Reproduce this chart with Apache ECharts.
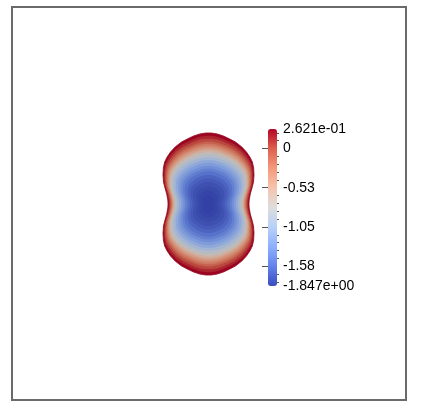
<!DOCTYPE html>
<html>
<head>
<meta charset="utf-8">
<script src="https://cdn.jsdelivr.net/npm/echarts@6/dist/echarts.min.js"></script>
<style>
html, body { margin: 0; padding: 0; background: #fff; }
#chart { width: 423px; height: 407px; }
</style>
</head>
<body>
<div id="chart"></div>
<script>
// domain outline (mesh units): half width at each height, top to bottom
const profileY = [1.0, 0.986, 0.958, 0.915, 0.873, 0.803, 0.732, 0.662, 0.592, 0.507, 0.408, 0.31, 0.225, 0.141, 0.056, 0,
  -0.056, -0.141, -0.225, -0.31, -0.408, -0.507, -0.592, -0.662, -0.732, -0.803, -0.873, -0.915, -0.958, -0.986, -1.0]
const profileHalfWidth = [0.04, 0.125, 0.21, 0.3, 0.38, 0.47, 0.535, 0.583, 0.618, 0.636, 0.641, 0.634, 0.613, 0.589, 0.573, 0.57,
  0.573, 0.589, 0.613, 0.634, 0.641, 0.636, 0.618, 0.583, 0.535, 0.47, 0.38, 0.3, 0.21, 0.125, 0.04]

// contour bands from the boundary inwards: horizontal / vertical size and field value
const bandScaleX = [1.0, 0.98, 0.96, 0.94, 0.92, 0.9, 0.88, 0.86, 0.84, 0.81, 0.77,
  0.72, 0.67, 0.62, 0.57, 0.52, 0.46, 0.4, 0.34, 0.27, 0.2, 0.12]
const bandScaleY = [1.0, 0.96, 0.92, 0.88, 0.85, 0.82, 0.79, 0.76, 0.73, 0.7, 0.66,
  0.62, 0.58, 0.54, 0.5, 0.46, 0.41, 0.36, 0.31, 0.25, 0.19, 0.12]
const bandValue = [0.262, 0.15, 0.04, -0.08, -0.2, -0.33, -0.46, -0.6, -0.74, -0.88, -1.02,
  -1.15, -1.27, -1.38, -1.48, -1.57, -1.65, -1.71, -1.76, -1.8, -1.83, -1.845]

// colour bar
const rangeMin = -1.847
const rangeMax = 0.2621
const labelValues = [0.2621, 0, -0.527, -1.054, -1.581, -1.847]
const labelTexts = ['2.621e-01', '0', '-0.53', '-1.05', '-1.58', '-1.847e+00']
const majorTicks = [0, -0.527, -1.054, -1.581]
const minorTicks = [0.2108, 0.1054, -0.1054, -0.2108, -0.3162, -0.4216, -0.6324, -0.7378, -0.8432, -0.9486,
  -1.1594, -1.2648, -1.3702, -1.4756, -1.6864, -1.7918]

const coolWarm = ['#3b4cc0', '#6282ea', '#8db0fe', '#b8d0f9', '#dddddd', '#f5c4ad', '#f49a7b', '#de604d', '#b40426']

const chart = echarts.init(document.getElementById('chart'), null, { renderer: 'canvas' })

// the surface is lit in the render, so it looks a bit darker than the colour bar
function shade (color, k) {
  const c = echarts.color.parse(color)
  if (!c) return color
  return 'rgb(' + Math.round(c[0] * k) + ',' + Math.round(c[1] * k) + ',' + Math.round(c[2] * k) + ')'
}

function renderBand (params, api) {
  const sx = api.value(0)
  const sy = api.value(1)
  const pts = []
  for (let i = 0; i < profileY.length; i++) {
    pts.push(api.coord([profileHalfWidth[i] * sx, profileY[i] * sy]))
  }
  for (let i = profileY.length - 1; i >= 0; i--) {
    pts.push(api.coord([-profileHalfWidth[i] * sx, profileY[i] * sy]))
  }
  return {
    type: 'polygon',
    shape: { points: pts },
    style: {
      fill: shade(api.visual('color'), 0.86),
      stroke: params.dataIndex === 0 ? '#930b20' : null,
      lineWidth: 0.8
    }
  }
}

const option = {
  animation: false,
  graphic: [{
    type: 'rect',
    shape: { x: 12, y: 7, width: 394, height: 393 },
    style: { fill: null, stroke: '#6a6a6a', lineWidth: 2 },
    silent: true
  }],
  grid: [
    { left: 163, top: 133, width: 91, height: 142 },
    { left: 268, top: 129, width: 11, height: 157 }
  ],
  xAxis: [
    { gridIndex: 0, type: 'value', min: -0.641, max: 0.641, show: false },
    { gridIndex: 1, type: 'value', min: 0, max: 1, show: false }
  ],
  yAxis: [
    { gridIndex: 0, type: 'value', min: -1, max: 1, show: false },
    {
      gridIndex: 1,
      type: 'value',
      position: 'right',
      min: rangeMin,
      max: rangeMax,
      axisLine: { show: false },
      splitLine: { show: false },
      axisTick: { show: true, inside: true, length: 6, customValues: majorTicks, lineStyle: { color: '#555', width: 1 } },
      axisLabel: {
        customValues: labelValues,
        margin: 4,
        color: '#000',
        fontSize: 14,
        fontFamily: 'Liberation Sans, Arial, sans-serif',
        formatter: function (v) {
          const i = labelValues.indexOf(v)
          return i >= 0 ? labelTexts[i] : ''
        }
      }
    },
    {
      gridIndex: 1,
      type: 'value',
      position: 'right',
      min: rangeMin,
      max: rangeMax,
      axisLine: { show: false },
      splitLine: { show: false },
      axisTick: { show: true, inside: true, length: 4, customValues: minorTicks, lineStyle: { color: '#555', width: 1 } },
      axisLabel: { show: false }
    }
  ],
  visualMap: {
    type: 'continuous',
    seriesIndex: 0,
    dimension: 2,
    min: rangeMin,
    max: rangeMax,
    orient: 'vertical',
    left: 268,
    top: 129,
    padding: 0,
    itemWidth: 9,
    itemHeight: 157,
    text: null,
    calculable: false,
    hoverLink: false,
    inRange: { color: coolWarm }
  },
  series: [{
    type: 'custom',
    xAxisIndex: 0,
    yAxisIndex: 0,
    renderItem: renderBand,
    data: bandValue.map((v, i) => [bandScaleX[i], bandScaleY[i], v]),
    silent: true
  }]
}
chart.setOption(option)
</script>
</body>
</html>
